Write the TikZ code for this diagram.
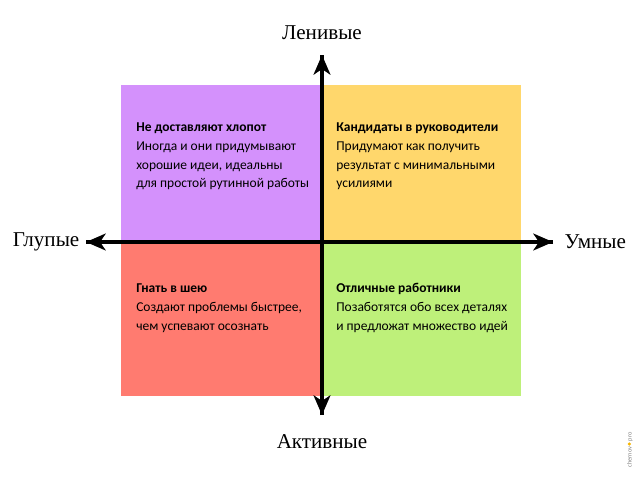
\documentclass[tikz,border=0pt]{standalone}
\usepackage{fontspec}
\setmainfont{Carlito}
\newfontfamily\axisfont{Liberation Serif}
\usetikzlibrary{arrows.meta}
\definecolor{QPurple}{HTML}{D491FC}
\definecolor{QYellow}{HTML}{FFD76C}
\definecolor{QRed}{HTML}{FF7B70}
\definecolor{QGreen}{HTML}{BEF07A}
\definecolor{QDot}{HTML}{F7B500}
\tikzset{
  quadtext/.style={anchor=north west,align=left,inner sep=0pt,font=\fontsize{9.6}{13.5}\selectfont},
  axislabel/.style={font=\axisfont\fontsize{15}{17}\selectfont,inner sep=1pt},
  axis/.style={line width=2.2pt,-{Stealth[length=14pt,width=12pt,inset=4pt]}}
}
\begin{document}
\begin{tikzpicture}[x=0.025cm,y=-0.025cm]
\path[use as bounding box] (0,0) rectangle (640,480);
% quadrants
\fill[QPurple] (121,85) rectangle (322,242);
\fill[QYellow] (322,85) rectangle (521,242);
\fill[QRed] (121,242) rectangle (322,396);
\fill[QGreen] (322,242) rectangle (521,396);
\node[quadtext] (lazystupid) at (136,122) {\textbf{Не доставляют хлопот}\\Иногда и они придумывают\\хорошие идеи, идеальны\\для простой рутинной работы};
\node[quadtext] (lazysmart) at (336,122) {\textbf{Кандидаты в руководители}\\Придумают как получить\\результат с минимальными\\усилиями};
\node[quadtext] (activestupid) at (136,283) {\textbf{Гнать в шею}\\Создают проблемы быстрее,\\чем успевают осознать};
\node[quadtext] (activesmart) at (336,283) {\textbf{Отличные работники}\\Позаботятся обо всех деталях\\и предложат множество идей};
% axes
\node[axislabel] (lazy) at (322,33) {Ленивые};
\node[axislabel] (active) at (322,442) {Активные};
\node[axislabel,anchor=east] (stupid) at (81,242) {Глупые};
\node[axislabel,anchor=west] (smart) at (563,242) {Умные};
\coordinate (top) at (322,55);
\coordinate (bottom) at (322,415);
\coordinate (left) at (86,242);
\coordinate (right) at (553,242);
\draw[axis] (bottom) -- (top);
\draw[axis] (top) -- (bottom);
\draw[axis] (right) -- (left);
\draw[axis] (left) -- (right);
% mark
\node[rotate=90,text=gray,font=\fontsize{4.5}{5}\selectfont,inner sep=0pt] (mark) at (630,450) {chernov\,\textcolor{QDot}{\raisebox{0.2ex}{\tikz\fill circle (1.2pt);}}\,pro};
\end{tikzpicture}
\end{document}
